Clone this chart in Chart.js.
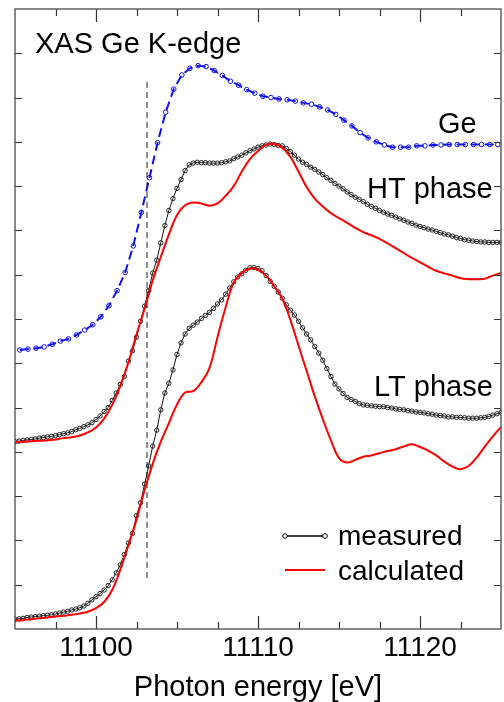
<!DOCTYPE html>
<html>
<head>
<meta charset="utf-8">
<script src="https://cdn.jsdelivr.net/npm/chart.js@4.4.1/dist/chart.umd.min.js"></script>
<style>
  html, body { margin: 0; padding: 0; background: #fff; overflow: hidden; }
  #wrap { position: relative; width: 506px; height: 702px; }
</style>
</head>
<body>
<div id="wrap"><canvas id="xasChart" width="506" height="702"></canvas></div>
<script>
// Ge reference spectrum (0.5 eV steps)
const geEnergy = [11095.3, 11095.8, 11096.3, 11096.8, 11097.3, 11097.8, 11098.3, 11098.8, 11099.3, 11099.8,
    11100.3, 11100.8, 11101.3, 11101.8, 11102.3, 11102.8, 11103.3, 11103.8, 11104.3, 11104.8,
    11105.3, 11105.8, 11106.3, 11106.8, 11107.3, 11107.8, 11108.3, 11108.8, 11109.3, 11109.8,
    11110.3, 11110.8, 11111.3, 11111.8, 11112.3, 11112.8, 11113.3, 11113.8, 11114.3, 11114.8,
    11115.3, 11115.8, 11116.3, 11116.8, 11117.3, 11117.8, 11118.3, 11118.8, 11119.3, 11119.8,
    11120.3, 11120.8, 11121.3, 11121.8, 11122.3, 11122.8, 11123.3, 11123.8, 11124.3, 11124.8];
const geValues = [6.30, 6.32, 6.34, 6.37, 6.43, 6.50, 6.55, 6.64, 6.75, 6.87,
    7.05, 7.30, 7.64, 8.05, 8.65, 9.41, 10.19, 10.98, 11.67, 12.19,
    12.51, 12.66, 12.72, 12.70, 12.61, 12.50, 12.37, 12.28, 12.18, 12.10,
    12.03, 12.00, 11.97, 11.95, 11.92, 11.88, 11.85, 11.79, 11.72, 11.62,
    11.49, 11.36, 11.21, 11.09, 11.00, 10.93, 10.88, 10.88, 10.88, 10.91,
    10.91, 10.93, 10.93, 10.94, 10.94, 10.94, 10.94, 10.94, 10.94, 10.94];

// measured spectra (0.25 eV steps)
const measEnergy = [11095, 11095.25, 11095.5, 11095.75, 11096, 11096.25, 11096.5, 11096.75, 11097, 11097.25,
    11097.5, 11097.75, 11098, 11098.25, 11098.5, 11098.75, 11099, 11099.25, 11099.5, 11099.75,
    11100, 11100.25, 11100.5, 11100.75, 11101, 11101.25, 11101.5, 11101.75, 11102, 11102.25,
    11102.5, 11102.75, 11103, 11103.25, 11103.5, 11103.75, 11104, 11104.25, 11104.5, 11104.75,
    11105, 11105.25, 11105.5, 11105.75, 11106, 11106.25, 11106.5, 11106.75, 11107, 11107.25,
    11107.5, 11107.75, 11108, 11108.25, 11108.5, 11108.75, 11109, 11109.25, 11109.5, 11109.75,
    11110, 11110.25, 11110.5, 11110.75, 11111, 11111.25, 11111.5, 11111.75, 11112, 11112.25,
    11112.5, 11112.75, 11113, 11113.25, 11113.5, 11113.75, 11114, 11114.25, 11114.5, 11114.75,
    11115, 11115.25, 11115.5, 11115.75, 11116, 11116.25, 11116.5, 11116.75, 11117, 11117.25,
    11117.5, 11117.75, 11118, 11118.25, 11118.5, 11118.75, 11119, 11119.25, 11119.5, 11119.75,
    11120, 11120.25, 11120.5, 11120.75, 11121, 11121.25, 11121.5, 11121.75, 11122, 11122.25,
    11122.5, 11122.75, 11123, 11123.25, 11123.5, 11123.75, 11124, 11124.25, 11124.5, 11124.75,
    11125];
const htMeasured = [4.23, 4.24, 4.26, 4.27, 4.28, 4.29, 4.31, 4.32, 4.34, 4.35,
    4.37, 4.39, 4.41, 4.43, 4.46, 4.50, 4.53, 4.57, 4.61, 4.66,
    4.73, 4.81, 4.91, 5.00, 5.16, 5.33, 5.52, 5.70, 6.05, 6.28,
    6.59, 6.95, 7.29, 7.64, 8.04, 8.33, 8.72, 9.11, 9.45, 9.72,
    9.95, 10.15, 10.35, 10.48, 10.52, 10.54, 10.53, 10.53, 10.52, 10.52,
    10.52, 10.53, 10.55, 10.57, 10.62, 10.66, 10.70, 10.75, 10.80, 10.84,
    10.88, 10.91, 10.93, 10.95, 10.94, 10.92, 10.91, 10.85, 10.78, 10.70,
    10.61, 10.54, 10.49, 10.43, 10.38, 10.32, 10.26, 10.19, 10.13, 10.06,
    10.00, 9.94, 9.87, 9.81, 9.75, 9.70, 9.65, 9.59, 9.54, 9.50,
    9.45, 9.41, 9.37, 9.34, 9.30, 9.26, 9.23, 9.19, 9.16, 9.12,
    9.09, 9.06, 9.03, 9.01, 8.98, 8.95, 8.92, 8.90, 8.87, 8.84,
    8.82, 8.79, 8.78, 8.76, 8.75, 8.74, 8.74, 8.73, 8.73, 8.73,
    8.73];
const ltMeasured = [0.22, 0.23, 0.24, 0.26, 0.27, 0.28, 0.29, 0.30, 0.31, 0.32,
    0.34, 0.36, 0.38, 0.40, 0.43, 0.45, 0.48, 0.52, 0.58, 0.66,
    0.73, 0.80, 0.88, 0.98, 1.11, 1.27, 1.45, 1.68, 1.94, 2.16,
    2.56, 2.85, 3.27, 3.68, 4.13, 4.49, 4.95, 5.33, 5.55, 5.85,
    6.20, 6.46, 6.66, 6.79, 6.86, 6.93, 7.01, 7.08, 7.15, 7.24,
    7.34, 7.43, 7.56, 7.70, 7.84, 7.95, 8.02, 8.10, 8.16, 8.16,
    8.14, 8.09, 7.98, 7.85, 7.74, 7.61, 7.47, 7.32, 7.20, 7.09,
    6.95, 6.80, 6.66, 6.53, 6.38, 6.23, 6.07, 5.88, 5.70, 5.53,
    5.42, 5.32, 5.23, 5.18, 5.14, 5.09, 5.06, 5.05, 5.04, 5.03,
    5.02, 5.02, 5.00, 4.99, 4.97, 4.96, 4.95, 4.93, 4.92, 4.90,
    4.89, 4.88, 4.86, 4.85, 4.83, 4.82, 4.81, 4.79, 4.79, 4.78,
    4.78, 4.77, 4.76, 4.76, 4.76, 4.77, 4.78, 4.80, 4.83, 4.86,
    4.89];

// calculated spectra (0.5 eV steps)
const calcEnergy = [11095, 11095.5, 11096, 11096.5, 11097, 11097.5, 11098, 11098.5, 11099, 11099.5,
    11100, 11100.5, 11101, 11101.5, 11102, 11102.5, 11103, 11103.5, 11104, 11104.5,
    11105, 11105.5, 11106, 11106.5, 11107, 11107.5, 11108, 11108.5, 11109, 11109.5,
    11110, 11110.5, 11111, 11111.5, 11112, 11112.5, 11113, 11113.5, 11114, 11114.5,
    11115, 11115.5, 11116, 11116.5, 11117, 11117.5, 11118, 11118.5, 11119, 11119.5,
    11120, 11120.5, 11121, 11121.5, 11122, 11122.5, 11123, 11123.5, 11124, 11124.5,
    11125];
const htCalculated = [4.22, 4.23, 4.24, 4.25, 4.26, 4.28, 4.31, 4.33, 4.37, 4.44,
    4.55, 4.75, 5.06, 5.49, 6.02, 6.65, 7.23, 7.87, 8.40, 8.91,
    9.35, 9.57, 9.63, 9.61, 9.56, 9.61, 9.78, 10.00, 10.33, 10.61,
    10.79, 10.93, 10.95, 10.87, 10.66, 10.33, 9.98, 9.72, 9.54, 9.39,
    9.28, 9.17, 9.06, 8.96, 8.89, 8.81, 8.71, 8.60, 8.49, 8.38,
    8.28, 8.18, 8.09, 8.03, 7.98, 7.92, 7.90, 7.90, 7.91, 7.98,
    8.04];
const ltCalculated = [0.19, 0.20, 0.22, 0.24, 0.26, 0.28, 0.30, 0.32, 0.35, 0.39,
    0.47, 0.61, 0.88, 1.34, 1.89, 2.47, 3.14, 3.73, 4.23, 4.65,
    5.07, 5.34, 5.37, 5.57, 5.89, 6.59, 7.26, 7.82, 8.04, 8.14,
    8.11, 7.98, 7.74, 7.46, 6.98, 6.40, 5.83, 5.26, 4.74, 4.26,
    3.86, 3.76, 3.82, 3.89, 3.92, 3.97, 4.02, 4.06, 4.12, 4.17,
    4.11, 4.03, 3.92, 3.78, 3.67, 3.61, 3.68, 3.87, 4.12, 4.35,
    4.56];

// edge position marker
const edgeEnergy = [11103.15, 11103.15];
const edgeLevels = [1.15, 12.36];

const xMajorTicks = [11100, 11110, 11120];
const xMinorTicks = [11097.5, 11102.5, 11105, 11107.5, 11112.5, 11115, 11117.5, 11122.5];
const yTicks = [1, 2, 3, 4, 5, 6, 7, 8, 9, 10, 11, 12, 13];

const FONT = '"Liberation Sans", Arial, Helvetica, sans-serif';

function pairUp(xs, ys) {
    return xs.map((e, i) => ({ x: e, y: ys[i] }));
}

const frameAndLabels = {
    id: 'frameAndLabels',
    afterDatasetsDraw(chart) {
        const { ctx, chartArea: a, scales: { x, y } } = chart;
        ctx.save();

        // ticks, all pointing inwards
        ctx.strokeStyle = '#333';
        ctx.lineWidth = 1.2;
        ctx.beginPath();
        xMajorTicks.forEach(v => {
            const px = Math.round(x.getPixelForValue(v)) + 0.5;
            ctx.moveTo(px, a.bottom); ctx.lineTo(px, a.bottom - 13);
            ctx.moveTo(px, a.top); ctx.lineTo(px, a.top + 13);
        });
        xMinorTicks.forEach(v => {
            const px = Math.round(x.getPixelForValue(v)) + 0.5;
            ctx.moveTo(px, a.bottom); ctx.lineTo(px, a.bottom - 7);
            ctx.moveTo(px, a.top); ctx.lineTo(px, a.top + 7);
        });
        yTicks.forEach(v => {
            const py = Math.round(y.getPixelForValue(v)) + 0.5;
            ctx.moveTo(a.left, py); ctx.lineTo(a.left + 7, py);
            ctx.moveTo(a.right, py); ctx.lineTo(a.right - 7, py);
        });
        ctx.stroke();

        // frame
        ctx.strokeStyle = '#555';
        ctx.lineWidth = 1.4;
        ctx.strokeRect(a.left, a.top, a.right - a.left, a.bottom - a.top);

        // labels
        ctx.fillStyle = '#000';
        ctx.textAlign = 'left';
        ctx.textBaseline = 'alphabetic';
        ctx.font = '29px ' + FONT;
        ctx.fillText('XAS Ge K-edge', 35, 53);
        ctx.fillText('Ge', 438, 133);
        ctx.fillText('HT phase', 367, 198);
        ctx.fillText('LT phase', 374, 396);

        // legend
        ctx.font = '28px ' + FONT;
        ctx.fillText('measured', 338, 545);
        ctx.fillText('calculated', 338, 580);

        ctx.strokeStyle = '#000';
        ctx.lineWidth = 1.5;
        ctx.beginPath();
        ctx.moveTo(285, 536); ctx.lineTo(325, 536);
        ctx.stroke();
        ctx.fillStyle = '#fff';
        [285, 325].forEach(cx => {
            ctx.beginPath();
            ctx.arc(cx, 536, 2.3, 0, Math.PI * 2);
            ctx.fill();
            ctx.lineWidth = 1;
            ctx.stroke();
        });

        ctx.strokeStyle = '#ff0000';
        ctx.lineWidth = 2;
        ctx.beginPath();
        ctx.moveTo(285, 570); ctx.lineTo(325, 570);
        ctx.stroke();

        ctx.restore();
    }
};

function renderChart() {
    const ctx = document.getElementById('xasChart');

    new Chart(ctx, {
        type: 'line',
        data: {
            datasets: [
                {
                    label: 'HT calculated',
                    data: pairUp(calcEnergy, htCalculated),
                    borderColor: '#ff0000',
                    borderWidth: 2,
                    pointRadius: 0,
                    tension: 0.4,
                    order: 1
                },
                {
                    label: 'LT calculated',
                    data: pairUp(calcEnergy, ltCalculated),
                    borderColor: '#ff0000',
                    borderWidth: 2,
                    pointRadius: 0,
                    tension: 0.4,
                    order: 1
                },
                {
                    label: 'HT measured',
                    data: pairUp(measEnergy, htMeasured),
                    borderColor: '#111',
                    borderWidth: 1,
                    pointRadius: 2.2,
                    pointBorderWidth: 1,
                    pointBorderColor: '#222',
                    pointBackgroundColor: 'rgba(255,255,255,0)',
                    order: 2
                },
                {
                    label: 'LT measured',
                    data: pairUp(measEnergy, ltMeasured),
                    borderColor: '#111',
                    borderWidth: 1,
                    pointRadius: 2.2,
                    pointBorderWidth: 1,
                    pointBorderColor: '#222',
                    pointBackgroundColor: 'rgba(255,255,255,0)',
                    order: 2
                },
                {
                    label: 'Ge',
                    data: pairUp(geEnergy, geValues),
                    borderColor: '#1010f0',
                    borderWidth: 2,
                    borderDash: [9, 5],
                    pointRadius: 2.3,
                    pointBorderWidth: 1,
                    pointBorderColor: '#1010f0',
                    pointBackgroundColor: 'rgba(255,255,255,0)',
                    order: 3
                },
                {
                    label: 'edge',
                    data: pairUp(edgeEnergy, edgeLevels),
                    borderColor: '#555',
                    borderWidth: 1.3,
                    borderDash: [6, 4],
                    pointRadius: 0,
                    order: 4
                }
            ]
        },
        options: {
            responsive: false,
            animation: false,
            devicePixelRatio: 1,
            layout: {
                padding: { left: 15, right: 1, top: 9, bottom: 0 }
            },
            plugins: {
                legend: { display: false },
                tooltip: { enabled: false }
            },
            scales: {
                x: {
                    type: 'linear',
                    min: 11095,
                    max: 11125,
                    grid: { display: false, drawTicks: false },
                    border: { display: false },
                    afterBuildTicks: axis => {
                        axis.ticks = xMajorTicks.map(v => ({ value: v }));
                    },
                    afterFit: axis => {
                        axis.height = 73;
                    },
                    ticks: {
                        color: '#000',
                        padding: 2,
                        maxRotation: 0,
                        font: { family: FONT, size: 28 },
                        callback: v => String(v)
                    },
                    title: {
                        display: true,
                        text: 'Photon energy [eV]',
                        color: '#000',
                        padding: { top: 0, bottom: -3 },
                        font: { family: FONT, size: 29 }
                    }
                },
                y: {
                    type: 'linear',
                    min: 0,
                    max: 14,
                    display: false
                }
            }
        },
        plugins: [frameAndLabels]
    });
}

renderChart();
</script>
</body>
</html>
